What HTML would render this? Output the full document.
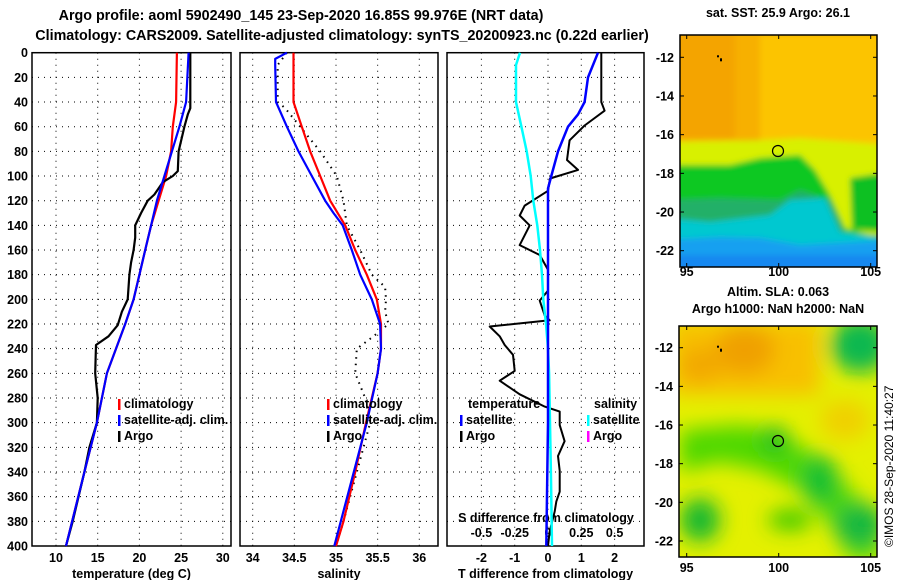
<!DOCTYPE html>
<html><head><meta charset="utf-8"><style>
html,body{margin:0;padding:0;background:#fff}
svg{display:block}
text{font-family:"Liberation Sans",sans-serif;font-weight:bold;fill:#000}
</style></head><body>
<svg id="fig" width="900" height="580" viewBox="0 0 900 580" xmlns="http://www.w3.org/2000/svg">
<defs>
<filter id="blur3" x="-10%" y="-10%" width="120%" height="120%"><feGaussianBlur stdDeviation="3"/></filter>
<filter id="blur10" x="-10%" y="-10%" width="120%" height="120%"><feGaussianBlur stdDeviation="10"/></filter>
<clipPath id="clipTop"><rect x="680" y="35" width="197" height="232"/></clipPath>
<clipPath id="clipBot"><rect x="679" y="326" width="198" height="231"/></clipPath>
</defs>
<text x="301" y="20" font-size="14.3" text-anchor="middle">Argo profile: aoml 5902490_145 23-Sep-2020 16.85S 99.976E (NRT data)</text>
<text x="342" y="40" font-size="14.3" text-anchor="middle">Climatology: CARS2009. Satellite-adjusted climatology: synTS_20200923.nc (0.22d earlier)</text>

<g id="p1"></g>
<g id="p2"></g>
<g id="p3"></g>

<!-- Top map -->
<g>
<text x="778" y="17" font-size="12.5" text-anchor="middle">sat. SST: 25.9 Argo: 26.1</text>
<g clip-path="url(#clipTop)">
<rect x="680" y="35" width="197" height="232" fill="#f7b000"/>
<g filter="url(#blur3)">
<rect x="760" y="35" width="130" height="110" fill="#fcc400"/>
<rect x="665" y="30" width="70" height="110" fill="#f4a400"/>
<rect x="665" y="140" width="230" height="30" fill="#fcc800"/>
<polygon points="665,142 760,140 800,138 890,145 890,240 840,235 820,200 800,180 760,168 665,165" fill="#d8f000"/>
<polygon points="665,165 730,165 760,158 800,155 815,170 830,195 845,228 870,235 890,235 890,290 665,290" fill="#10c820"/>
<polygon points="850,178 890,172 890,232 852,230" fill="#10c020"/>
<polygon points="665,200 720,198 780,200 800,190 830,200 845,232 890,238 890,290 665,290" fill="#20b068"/>
<polygon points="665,218 710,222 770,215 790,200 825,198 840,232 890,240 890,290 665,290" fill="#00c8d0"/>
<polygon points="665,240 720,237 760,238 800,245 890,240 890,290 665,290" fill="#18a0f0"/>
<rect x="665" y="255" width="230" height="20" fill="#1888f0"/>
</g>
</g>
<rect x="680" y="35" width="197" height="232" fill="none" stroke="#000" stroke-width="1.5"/>
<circle cx="778" cy="151" r="5.5" fill="none" stroke="#000" stroke-width="1.2"/>
<g id="m1ticks"></g>
</g>

<!-- Bottom map -->
<g>
<text x="778" y="296" font-size="12.5" text-anchor="middle">Altim. SLA: 0.063</text>
<text x="778" y="313" font-size="12.5" text-anchor="middle">Argo h1000: NaN h2000: NaN</text>
<g clip-path="url(#clipBot)">
<rect x="679" y="326" width="198" height="231" fill="#e4f000"/>
<g filter="url(#blur10)">
<rect x="670" y="320" width="150" height="75" fill="#f8c000"/>
<ellipse cx="745" cy="350" rx="30" ry="25" fill="#f0a000"/>
<ellipse cx="700" cy="365" rx="22" ry="18" fill="#f2a800"/>
<ellipse cx="860" cy="345" rx="30" ry="28" fill="#10b850"/>
<polygon points="680,430 740,425 775,430 800,445 830,465 860,500 880,520 880,560 850,560 830,525 800,490 760,470 720,462 680,472" fill="#50d800"/>
<ellipse cx="700" cy="520" rx="20" ry="22" fill="#18b830"/>
<ellipse cx="860" cy="525" rx="25" ry="22" fill="#18b840"/>
<ellipse cx="820" cy="480" rx="18" ry="25" fill="#18c030"/>
<ellipse cx="790" cy="520" rx="22" ry="10" fill="#30c800"/>
<ellipse cx="775" cy="440" rx="14" ry="14" fill="#20c020"/>
<ellipse cx="845" cy="420" rx="25" ry="20" fill="#f0d000"/>
</g>
</g>
<rect x="679" y="326" width="198" height="231" fill="none" stroke="#000" stroke-width="1.5"/>
<circle cx="778" cy="441" r="5.5" fill="none" stroke="#000" stroke-width="1.2"/>
<g id="m2ticks"></g>
</g>
<text transform="translate(893,547) rotate(-90)" font-size="12" style="font-weight:normal">©IMOS 28-Sep-2020 11:40:27</text>
</svg>
<script>
// ---- data ----
const depthTicks = [0,20,40,60,80,100,120,140,160,180,200,220,240,260,280,300,320,340,360,380,400];
const tempTicks = [10,15,20,25,30];
const salTicks = [34,34.5,35,35.5,36];
const salTickLabels = ['34','34.5','35','35.5','36'];
const tdiffTicks = [-2,-1,0,1,2];
const sdiffTicks = [-0.5,-0.25,0,0.25,0.5];
const sdiffTickLabels = ['-0.5','-0.25','0','0.25','0.5'];

const tClimDepth = [0,40,60,80,100,120,140,160,180,200,220,240,260,300,340,400];
const tClimVal   = [24.5,24.4,24.0,23.8,23.2,22.3,21.4,20.7,20.0,19.3,18.3,17.2,16.1,14.9,13.4,11.2];
const tSatDepth  = [0,40,60,80,100,120,140,160,180,200,220,240,260,300,340,400];
const tSatVal    = [25.9,25.6,24.8,23.9,23.0,22.1,21.4,20.7,20.0,19.3,18.3,17.2,16.1,14.9,13.4,11.2];
const tArgoDepth = [0,45,50,60,80,96,100,105,115,120,130,140,150,160,170,180,200,210,221,230,237,260,280,300,320,340,380,400];
const tArgoVal   = [26.1,26.1,25.8,25.4,24.7,24.6,24.0,22.8,21.8,21.0,20.2,19.5,19.5,19.3,19.0,18.8,18.6,17.9,17.4,16.3,14.8,14.7,15.0,14.9,14.0,13.4,12.0,11.2];

const sClimDepth = [0,40,60,80,100,120,140,160,180,200,220,240,260,280,300,340,380,400];
const sClimVal   = [34.49,34.49,34.59,34.69,34.81,34.93,35.11,35.23,35.37,35.49,35.54,35.54,35.5,35.43,35.36,35.23,35.09,35.0];
const sSatDepth  = [0,5,10,40,60,80,100,120,130,140,160,180,200,220,240,260,300,400];
const sSatVal    = [34.41,34.27,34.27,34.28,34.41,34.55,34.71,34.87,34.97,35.08,35.19,35.29,35.43,35.53,35.54,35.5,35.37,34.98];
const sArgoDepth = [0,10,40,45,50,60,80,100,120,140,160,180,190,200,210,220,230,240,260,280,300,320,340,380,400];
const sArgoVal   = [34.41,34.3,34.3,34.39,34.45,34.57,34.81,35.01,35.09,35.13,35.29,35.43,35.59,35.6,35.59,35.63,35.45,35.25,35.23,35.35,35.41,35.33,35.25,35.09,35.0];

const dTSatDepth = [0,20,40,50,60,80,100,110,200,300,400];
const dTSatVal   = [1.5,1.2,1.1,0.9,0.6,0.3,0.1,0,0,0,-0.05];
const dTArgoDepth = [0,40,47,59,71,87,95,102,112,124,132,140,156,164,176,193,201,213,217,222,230,237,245,258,266,277,287,291,302,315,327,339,356,364,372,388,400];
const dTArgoVal   = [1.6,1.6,1.7,1.1,0.65,0.57,0.9,0.06,0,-0.7,-0.85,-0.55,-0.85,-0.25,0,0,-0.25,-0.1,0.05,-1.75,-1.45,-1.3,-1.05,-1.0,-1.45,-0.85,-0.1,0.35,0.35,0.5,0.3,0.35,0.35,0.25,0.2,0.05,0];
const dSSatDepth = [0,10,40,60,80,100,120,140,160,180,200,220,240,260,300,340,400];
const dSSatVal   = [-0.21,-0.24,-0.24,-0.2,-0.16,-0.13,-0.11,-0.08,-0.06,-0.045,-0.035,-0.015,0,0.008,0.015,0.022,0.03];

const lonTicks = [95,100,105];
const latTicks = [-12,-14,-16,-18,-20,-22];

// ---- helpers ----
const NS='http://www.w3.org/2000/svg';
function mk(tag, attrs, parent){const e=document.createElementNS(NS,tag);for(const k in attrs)e.setAttribute(k,attrs[k]);parent.appendChild(e);return e;}
const Y0=52.7, Y1=546;
const FS=12.5;
function yD(d){return Y0+(Y1-Y0)*d/400;}

function panel(g, x0, x1, xs, ticks, labels, title){
  for(const d of depthTicks){
    if(d===0||d===400) continue;
    const l=mk('line',{x1:x0,x2:x1,y1:yD(d),y2:yD(d),stroke:'#000','stroke-width':1,'stroke-dasharray':'1 5'},g);
    
    
  }
  ticks.forEach((t,i)=>{
    const l=mk('line',{x1:xs(t),x2:xs(t),y1:Y0,y2:Y1,stroke:'#000','stroke-width':1,'stroke-dasharray':'1 5'},g);
    
    
    const tx=mk('text',{x:xs(t),y:562,'font-size':FS,'text-anchor':'middle'},g);
    tx.textContent=labels[i];
    
    
  });
  const fr=mk('rect',{x:x0,y:Y0,width:x1-x0,height:Y1-Y0,fill:'none',stroke:'#000','stroke-width':1.5},g);
  
  
  const tt=mk('text',{x:(x0+x1)/2,y:578,'font-size':FS,'text-anchor':'middle'},g);
  tt.textContent=title;
  
  
}
function line(g, xs, depths, vals, color, name, dash, w){
  const pts=depths.map((d,i)=>xs(vals[i]).toFixed(1)+','+yD(d).toFixed(1)).join(' ');
  const a={points:pts,fill:'none',stroke:color,'stroke-width':w||2.2,'stroke-linejoin':'round'};
  if(dash) a['stroke-dasharray']=dash;
  const p=mk('polyline',a,g);
  
  
}
function legend(g, x, y, items){
  items.forEach((it,i)=>{
    const yy=y+i*16;
    const m=mk('rect',{x:x,y:yy-9,width:2.5,height:11,fill:it[1]},g);
    
    
    const t=mk('text',{x:x+6,y:yy,'font-size':FS},g);
    t.textContent=it[0];
    
    
  });
}

const fig=document.getElementById('fig');
const yl=mk('g',{},fig);


depthTicks.forEach(d=>{
  const t=mk('text',{x:28,y:yD(d)+4.5,'font-size':FS,'text-anchor':'end'},yl);
  t.textContent=String(d);
  
  
});

// Panel 1 temperature
const p1=document.getElementById('p1');
const xT=t=>56+(t-10)*8.34;
panel(p1,32,231,xT,tempTicks,tempTicks.map(String),'temperature (deg C)');
line(p1,xT,tClimDepth,tClimVal,'#ff0000','temp-climatology-line');
line(p1,xT,tArgoDepth,tArgoVal,'#000000','temp-argo-line');
line(p1,xT,tSatDepth,tSatVal,'#0000ff','temp-satellite-line');
legend(p1,118,408,[['climatology','#ff0000'],['satellite-adj. clim.','#0000ff'],['Argo','#000']]);

// Panel 2 salinity
const p2=document.getElementById('p2');
const xS=s=>252.7+(s-34)*83.3;
panel(p2,240,438,xS,salTicks,salTickLabels,'salinity');
line(p2,xS,sArgoDepth,sArgoVal,'#000000','sal-argo-line','1.5 5',2);
line(p2,xS,sClimDepth,sClimVal,'#ff0000','sal-climatology-line');
line(p2,xS,sSatDepth,sSatVal,'#0000ff','sal-satellite-line');
legend(p2,327,408,[['climatology','#ff0000'],['satellite-adj. clim.','#0000ff'],['Argo','#000']]);

// Panel 3 differences
const p3=document.getElementById('p3');
const xDT=v=>548+v*33.3;
const xDS=v=>548+v*133.2;
panel(p3,447,644,xDT,tdiffTicks,tdiffTicks.map(String),'T difference from climatology');
sdiffTicks.forEach((v,i)=>{
  const t=mk('text',{x:xDS(v),y:537,'font-size':FS,'text-anchor':'middle'},p3);
  t.textContent=sdiffTickLabels[i];
  
  
});
const sdt=mk('text',{x:546,y:522,'font-size':FS,'text-anchor':'middle'},p3);
sdt.textContent='S difference from climatology';


line(p3,xDT,dTArgoDepth,dTArgoVal,'#000000','tdiff-argo-line',null,2);
line(p3,xDS,dSSatDepth,dSSatVal,'#00ffff','sdiff-satellite-line',null,2.5);
line(p3,xDT,dTSatDepth,dTSatVal,'#0000ff','tdiff-satellite-line',null,2.5);
const lt=mk('text',{x:468,y:408,'font-size':FS},p3);
lt.textContent='temperature';


const ls=mk('text',{x:594,y:408,'font-size':FS},p3);
ls.textContent='salinity';


legend(p3,460,424,[['satellite','#0000ff'],['Argo','#000']]);
legend(p3,587,424,[['satellite','#00ffff'],['Argo','#ff00ff']]);

// Map ticks
function mapTicks(gid, x0, x1, y0, y1, lonY, latTop, latLabY){
  const g=document.getElementById(gid);
  const lx=l=>686.7+(l-95)*18.4;
  const ly=l=>latTop+(-12-l)*latLabY;
  lonTicks.forEach(l=>{
    mk('line',{x1:lx(l),x2:lx(l),y1:y0,y2:y0+4,stroke:'#000'},g);
    mk('line',{x1:lx(l),x2:lx(l),y1:y1,y2:y1-4,stroke:'#000'},g);
    const t=mk('text',{x:lx(l),y:lonY,'font-size':FS,'text-anchor':'middle'},g);
    t.textContent=String(l);
    
    
  });
  latTicks.forEach(l=>{
    mk('line',{x1:x0,x2:x0+4,y1:ly(l),y2:ly(l),stroke:'#000'},g);
    mk('line',{x1:x1,x2:x1-4,y1:ly(l),y2:ly(l),stroke:'#000'},g);
    const t=mk('text',{x:x0-6,y:ly(l)+4.5,'font-size':FS,'text-anchor':'end'},g);
    t.textContent=String(l);
    
    
  });
  mk('rect',{x:717,y:latTop-2,width:2,height:2,fill:'#000'},g);
  mk('rect',{x:720,y:latTop+1,width:2,height:3,fill:'#000'},g);
}
mapTicks('m1ticks',680,877,35,267,276,57.3,19.34);
mapTicks('m2ticks',679,877,326,557,572,347.7,19.33);
</script>
</body></html>
